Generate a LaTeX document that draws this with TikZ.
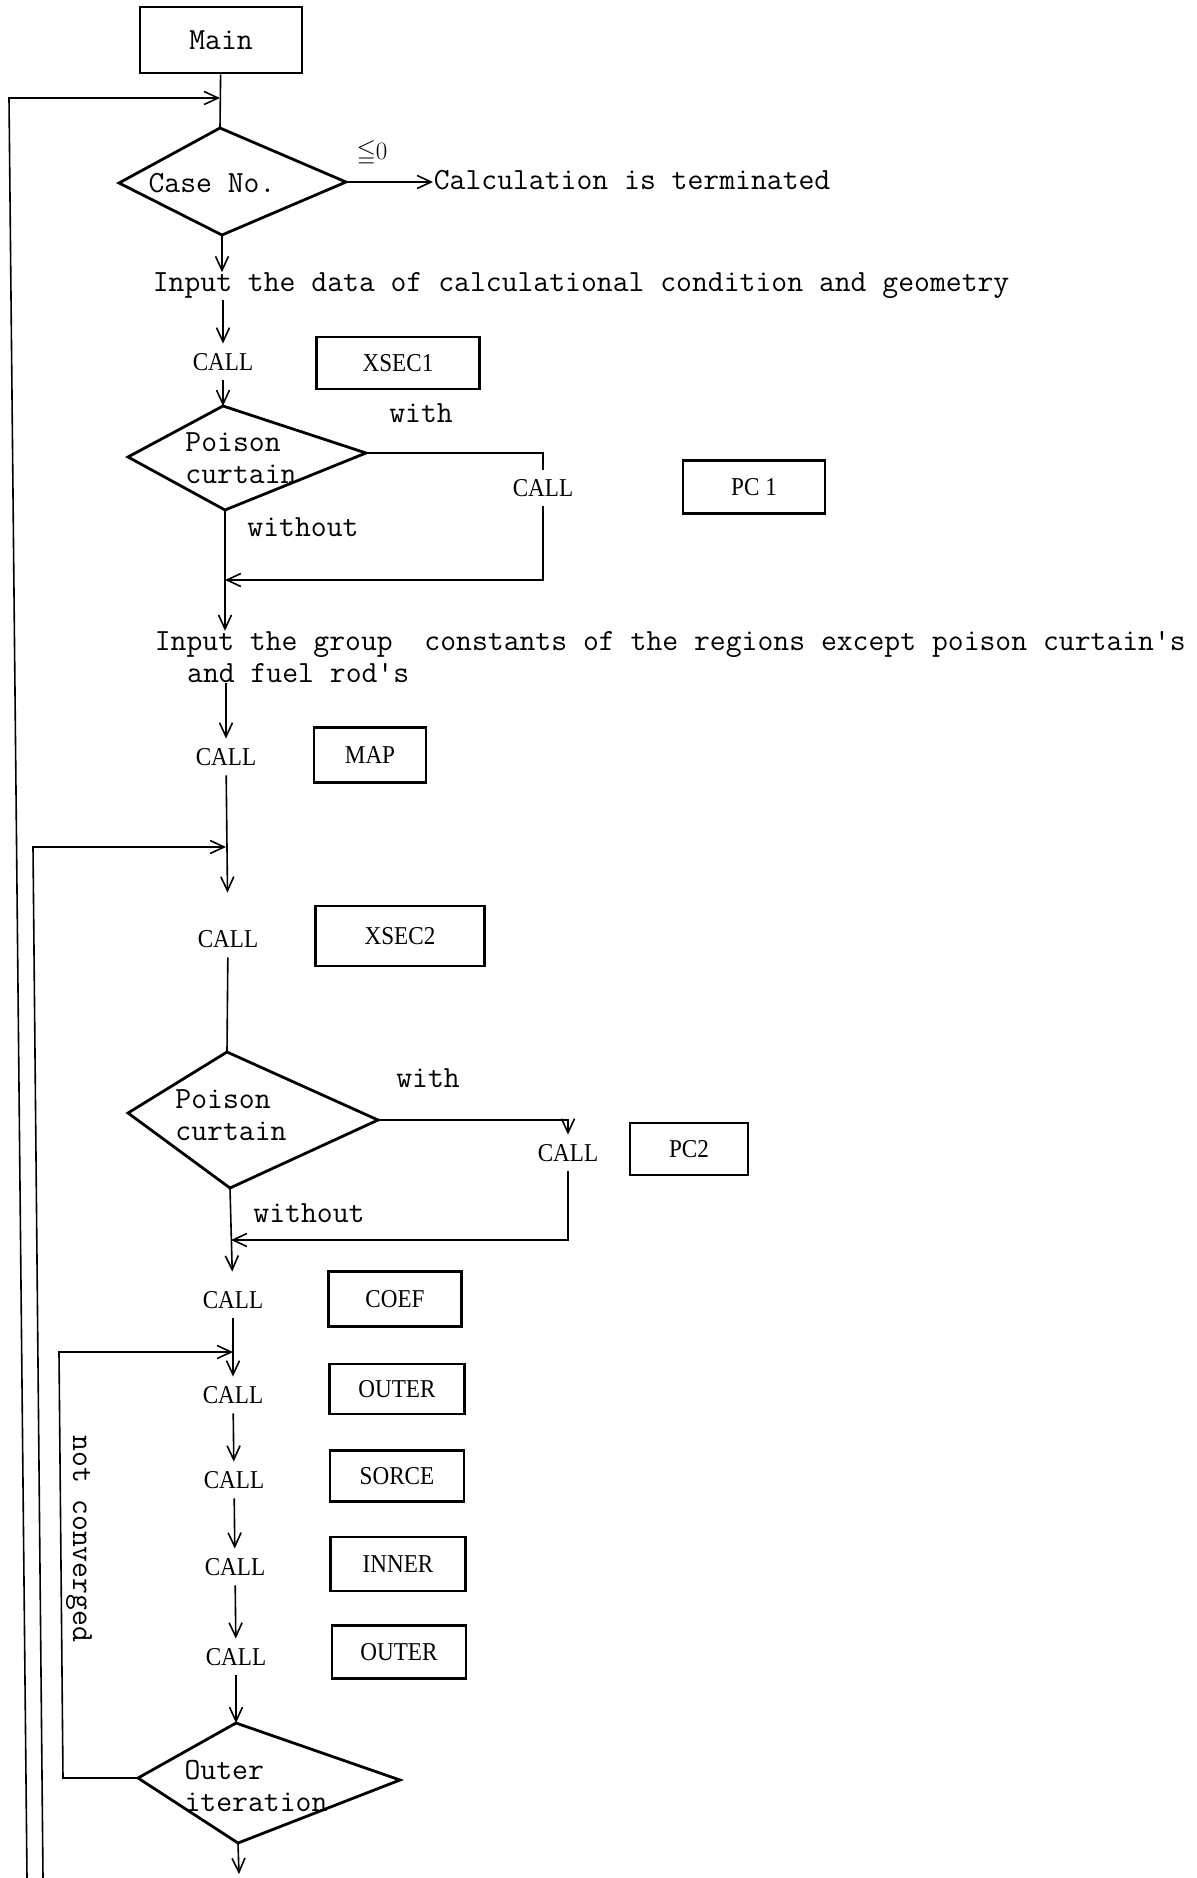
\documentclass[tikz,border=0pt]{standalone}
\usepackage{fontspec}
\usepackage{amssymb}
\usetikzlibrary{arrows.meta, calc}
\newfontfamily\callfont[FakeStretch=0.9]{Liberation Serif}

\begin{document}
\begin{tikzpicture}[
    x=1pt, y=-1pt,
    >={Straight Barb[length=14pt, width=13pt]},
    font=\ttfamily\fontsize{30.8}{31.5}\selectfont,
    line width=1.6pt,
    mainbox/.style = {draw, line width=2.8pt, inner sep=0pt},
    sub/.style  = {draw, line width=2.8pt, inner sep=0pt,
                   font=\callfont\fontsize{25.7}{28}\selectfont},
    call/.style = {inner xsep=2pt, inner ysep=9pt,
                   font=\callfont\fontsize{25.7}{28}\selectfont},
    dec/.style  = {line width=2.8pt, line join=miter},
    txt/.style  = {anchor=west, inner sep=0pt, align=left},
    lbl/.style  = {inner sep=0pt, align=left},
    arr/.style  = {->}
  ]
  \useasboundingbox (0,0) rectangle (1196,1878);

  % --- main and case number ---
  \node[mainbox, minimum width=162pt, minimum height=66pt] (main) at (221,40) {Main};

  \coordinate (cas-t) at (220,128);
  \coordinate (cas-l) at (119,183);
  \coordinate (cas-r) at (346,182);
  \coordinate (cas-b) at (222,235);
  \draw[dec] (cas-t) -- (cas-r) -- (cas-b) -- (cas-l) -- cycle;
  \node[lbl] (cas) at (212,183) {Case No.};
  \node[lbl, font=\rmfamily\fontsize{25}{28}\selectfont] (leq) at (372,153) {$\leqq$0};
  \node[txt] (stop) at (433,180) {Calculation is terminated};

  \draw (main) -- (cas-t);
  \draw[arr] (cas-r) -- (cas-r -| stop.west);

  % --- outermost loop (next case) ---
  \coordinate (l1-top) at (9,98);
  \coordinate (l1-bot) at (27,1878);
  \draw[arr] (l1-bot) -- (l1-top) -- (l1-top -| cas-t);

  % --- input and XSEC1 ---
  \node[txt] (in1) at (152,286) {Input the data of calculational condition and geometry};
  \draw[arr] (cas-b) -- (cas-b |- in1.north);

  \node[call] (c1) at (223,362) {CALL};
  \node[sub, minimum width=163pt, minimum height=52pt] (xsec1) at (398,363) {XSEC1};
  \draw[arr] (in1.south -| c1) -- (c1);

  % --- poison curtain (1) ---
  \coordinate (pc1-t) at (223,406);
  \coordinate (pc1-l) at (128,457);
  \coordinate (pc1-r) at (366,453);
  \coordinate (pc1-b) at (225,510);
  \draw[dec] (pc1-t) -- (pc1-r) -- (pc1-b) -- (pc1-l) -- cycle;
  \node[lbl] (pc1) at (241,458) {Poison\\curtain};
  \draw[arr] (c1) -- (pc1-t);

  \node[lbl] (w1) at (421,413) {with};
  \node[lbl] (wo1) at (303,527) {without};
  \node[call] (c2) at (543,488) {CALL};
  \node[sub, minimum width=142pt, minimum height=53pt] (pcbox1) at (754,487) {PC 1};
  \coordinate (j1) at (225,580);
  \draw (pc1-r) -- (pc1-r -| c2) -- (c2);
  \draw[arr] (c2) -- (c2 |- j1) -- (j1);

  % --- group constants and MAP ---
  \node[txt] (in2) at (154,657) {Input the group\ \ constants of the regions except poison curtain\textquotesingle s\\
    \hspace*{1.05em}and fuel rod\textquotesingle s};
  \draw[arr] (pc1-b) -- (pc1-b |- in2.north);

  \node[call] (c3) at (226,757) {CALL};
  \node[sub, minimum width=112pt, minimum height=55pt] (map) at (370,755) {MAP};
  \draw[arr] (in2.south -| c3) -- (c3);

  % --- loop over cross sections ---
  \node[call] (c4) at (228,939) {CALL};
  \node[sub, minimum width=169pt, minimum height=60pt] (xsec2) at (400,936) {XSEC2};
  \coordinate (l2-top) at (33,847);
  \coordinate (l2-bot) at (43,1878);
  \draw[arr, shorten >=28pt] (c3) -- (c4);
  \draw[arr] (l2-bot) -- (l2-top) -- (l2-top -| c3);

  % --- poison curtain (2) ---
  \coordinate (pc2-t) at (227,1052);
  \coordinate (pc2-l) at (128,1113);
  \coordinate (pc2-r) at (378,1120);
  \coordinate (pc2-b) at (230,1188);
  \draw[dec] (pc2-t) -- (pc2-r) -- (pc2-b) -- (pc2-l) -- cycle;
  \node[lbl] (pc2) at (231,1115) {Poison\\curtain};
  \draw (c4) -- (pc2-t);

  \node[lbl] (w2) at (428,1078) {with};
  \node[lbl] (wo2) at (309,1213) {without};
  \node[call] (c5) at (568,1153) {CALL};
  \node[sub, minimum width=118pt, minimum height=52pt] (pcbox2) at (689,1149) {PC2};
  \coordinate (j2) at (231,1240);
  \draw[arr] (pc2-r) -- (pc2-r -| c5) -- (c5);
  \draw[arr] (c5) -- (c5 |- j2) -- (j2);

  % --- COEF and outer iteration ---
  \node[call] (c6) at (233,1300) {CALL};
  \node[sub, minimum width=133pt, minimum height=55pt] (coef) at (395,1299) {COEF};
  \node[call] (c7) at (233,1395) {CALL};
  \node[sub, minimum width=135pt, minimum height=50pt] (outer1) at (397,1389) {OUTER};
  \node[call] (c8) at (234,1480) {CALL};
  \node[sub, minimum width=134pt, minimum height=51pt] (sorce) at (397,1476) {SORCE};
  \node[call] (c9) at (235,1567) {CALL};
  \node[sub, minimum width=135pt, minimum height=54pt] (inner) at (398,1564) {INNER};
  \node[call] (c10) at (236,1657) {CALL};
  \node[sub, minimum width=134pt, minimum height=53pt] (outer2) at (399,1652) {OUTER};

  \draw[arr, shorten >=10pt] (pc2-b) -- (c6);
  \draw[arr] (c6) -- (c7);
  \draw[arr] (c7) -- (c8);
  \draw[arr] (c8) -- (c9);
  \draw[arr] (c9) -- (c10);

  \coordinate (oi-t) at (236,1723);
  \coordinate (oi-l) at (138,1778);
  \coordinate (oi-r) at (400,1780);
  \coordinate (oi-b) at (238,1843);
  \draw[dec] (oi-t) -- (oi-r) -- (oi-b) -- (oi-l) -- cycle;
  \node[lbl] (oi) at (256,1786) {Outer\\iteration};
  \draw[arr] (c10) -- (oi-t);

  \coordinate (l3-top) at (59,1352);
  \coordinate (l3-bot) at (63,1778);
  \draw[arr] (oi-l) -- (l3-bot) -- (l3-top) -- (l3-top -| c6);
  \node[lbl, rotate=-90] (nc) at (79,1539) {not converged};

  \coordinate (fin) at (239,1874);
  \draw[arr] (oi-b) -- (fin);

\end{tikzpicture}
\end{document}
